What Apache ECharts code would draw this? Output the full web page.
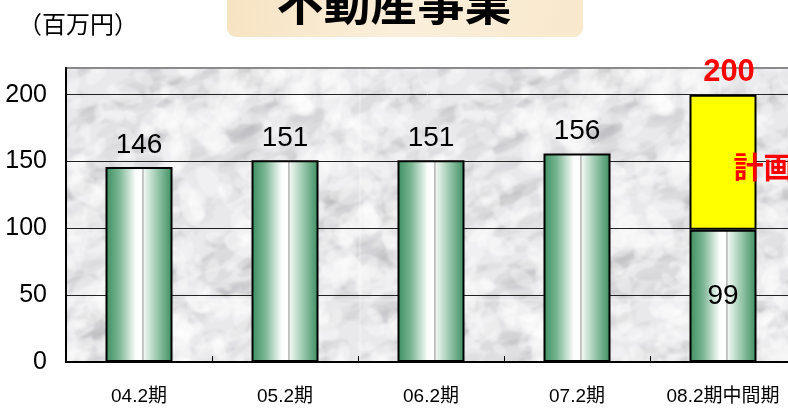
<!DOCTYPE html>
<html>
<head>
<meta charset="utf-8">
<script src="https://cdn.jsdelivr.net/npm/echarts@6/dist/echarts.min.js"></script>
<style>
  html, body { margin: 0; padding: 0; background: #fff; }
  #contain { width: 788px; height: 408px; }
</style>
</head>
<body>
<div id="contain"></div>
<script>
var categories = ['04.2期', '05.2期', '06.2期', '07.2期', '08.2期中間期'];
var results = [146, 151, 151, 156, 99];        // 実績
var planTotal = [null, null, null, null, 200];  // 計画（合計）
var yTicks = [0, 50, 100, 150, 200];

var latin = "'Liberation Sans', 'Noto Sans CJK JP', sans-serif";
var cjk = "'Noto Sans CJK JP', sans-serif";

// 大理石っぽい背景（模様だけ、データではない）
function makeMarble() {
    var w = 360, h = 300;
    var raw = document.createElement('canvas');
    raw.width = w; raw.height = h;
    var ctx = raw.getContext('2d');
    ctx.fillStyle = '#e9e9eb';
    ctx.fillRect(0, 0, w, h);
    var s = 4242;
    function rnd() { s = (s * 16807) % 2147483647; return s / 2147483647; }
    function blob(x, y, rx, ry, rot, fill) {
        ctx.fillStyle = fill;
        for (var dx = -1; dx <= 1; dx++) {
            for (var dy = -1; dy <= 1; dy++) {
                ctx.beginPath();
                ctx.ellipse(x + dx * w, y + dy * h, rx, ry, rot, 0, Math.PI * 2);
                ctx.fill();
            }
        }
    }
    for (var i = 0; i < 420; i++) {
        var r = 2 + rnd() * 9;
        var g = (120 + rnd() * 70) | 0;
        blob(rnd() * w, rnd() * h, r * 2.4, r * 0.7, -0.6 + rnd() * 0.5,
            'rgba(' + g + ',' + g + ',' + (g + 5) + ',0.12)');
    }
    for (var j = 0; j < 420; j++) {
        var r2 = 2 + rnd() * 9;
        blob(rnd() * w, rnd() * h, r2 * 1.8, r2, rnd() * 3, 'rgba(255,255,255,0.35)');
    }
    var out = document.createElement('canvas');
    out.width = w; out.height = h;
    var octx = out.getContext('2d');
    octx.filter = 'blur(1.2px)';
    for (var ox = -1; ox <= 1; ox++) {
        for (var oy = -1; oy <= 1; oy++) {
            octx.drawImage(raw, ox * w, oy * h);
        }
    }
    return out;
}

var barGreen = {
    type: 'linear', x: 0, y: 0, x2: 1, y2: 0,
    colorStops: [
        { offset: 0, color: '#3b8e60' },
        { offset: 0.2, color: '#79b592' },
        { offset: 0.45, color: '#fbfdfc' },
        { offset: 0.55, color: '#ffffff' },
        { offset: 0.553, color: '#a8a8a8' },
        { offset: 0.565, color: '#a8a8a8' },
        { offset: 0.57, color: '#f2f8f4' },
        { offset: 0.8, color: '#8dc1a3' },
        { offset: 1, color: '#3b8e60' }
    ]
};

var resultData = results.map(function (v, i) {
    if (planTotal[i] != null) {
        return { value: v, label: { position: 'inside' } };
    }
    return v;
});
var planData = planTotal.map(function (v, i) {
    return v == null ? '-' : v - results[i];
});

function chart() {
    var myChart = echarts.init(document.getElementById('contain'));
    var option = {
        animation: false,
        title: [
            {
                text: '不動産事業',
                left: 'center',
                top: -21,
                padding: 0,
                textStyle: { fontSize: 47, fontWeight: 'bold', color: '#000', fontFamily: cjk }
            },
            {
                text: '（百万円）',
                left: 18,
                top: 12,
                padding: 0,
                textStyle: { fontSize: 24, fontWeight: 'normal', color: '#000', fontFamily: cjk }
            }
        ],
        graphic: [
            {
                type: 'rect',
                z: -10,
                shape: { x: 227, y: -12, width: 356, height: 49, r: 9 },
                style: {
                    fill: {
                        type: 'linear', x: 0, y: 0, x2: 1, y2: 1,
                        colorStops: [
                            { offset: 0, color: '#f6e3c2' },
                            { offset: 0.5, color: '#fbefdb' },
                            { offset: 1, color: '#f8e8cc' }
                        ]
                    }
                }
            }
        ],
        grid: {
            left: 66,
            top: 68,
            width: 730,
            bottom: 46,
            outerBoundsMode: 'none',
            show: true,
            backgroundColor: { image: makeMarble(), repeat: 'repeat' },
            borderColor: '#8a8a8a',
            borderWidth: 2
        },
        xAxis: {
            type: 'category',
            data: categories,
            axisLine: { lineStyle: { color: '#000', width: 2 } },
            axisTick: { show: true, inside: true, length: 6, lineStyle: { color: '#000' } },
            axisLabel: { interval: 0, color: '#000', fontSize: 19, margin: 25, fontFamily: latin }
        },
        yAxis: {
            type: 'value',
            min: 0,
            max: 220,
            interval: 50,
            axisLine: { show: true, lineStyle: { color: '#000', width: 2 } },
            axisTick: { show: false },
            axisLabel: {
                color: '#000', fontSize: 25, margin: 19, fontFamily: latin,
                formatter: function (v) { return yTicks.indexOf(v) >= 0 ? String(v) : ''; }
            },
            splitLine: { lineStyle: { color: ['#222', '#222', '#222', '#222', '#222', '#8a8a8a'], width: 1 } }
        },
        series: [
            {
                name: '実績',
                type: 'bar',
                stack: 'a',
                barWidth: 67,
                data: resultData,
                itemStyle: { color: barGreen, borderColor: '#000', borderWidth: 2 },
                label: {
                    show: true, position: 'top', distance: 8,
                    color: '#000', fontSize: 28, fontFamily: latin
                }
            },
            {
                name: '計画',
                type: 'bar',
                stack: 'a',
                barWidth: 67,
                data: planData,
                itemStyle: { color: '#ffff00', borderColor: '#000', borderWidth: 2 },
                label: {
                    show: true,
                    formatter: '計画',
                    position: [44, 72],
                    verticalAlign: 'middle',
                    align: 'left',
                    color: '#ff0000', fontSize: 30, fontWeight: 'bold',
                    fontFamily: cjk
                },
                markPoint: {
                    symbol: 'rect',
                    symbolSize: 1,
                    itemStyle: { color: 'rgba(0,0,0,0)' },
                    label: {
                        show: true, position: 'top', distance: 6, offset: [6, 0],
                        color: '#ff0000', fontSize: 31, fontWeight: 'bold',
                        fontFamily: latin
                    },
                    data: planTotal.map(function (v, i) {
                        return v == null ? null : { coord: [i, v], value: v };
                    }).filter(function (d) { return d; })
                }
            }
        ]
    };
    myChart.setOption(option);
}

chart();
</script>
</body>
</html>
